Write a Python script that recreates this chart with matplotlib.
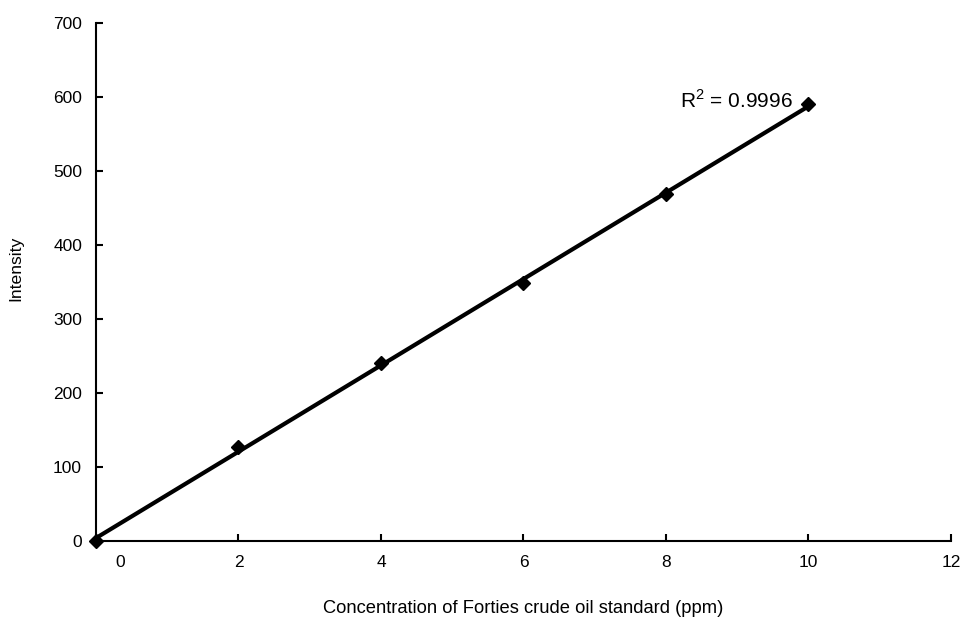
import numpy as np
import matplotlib
matplotlib.use("Agg")
import matplotlib.pyplot as plt
import matplotlib.transforms as mtransforms

plt.rcParams['font.family'] = ['Liberation Sans', 'DejaVu Sans']
plt.rcParams['mathtext.fontset'] = 'custom'
plt.rcParams['mathtext.rm'] = 'Liberation Sans'

concentration = [0, 2, 4, 6, 8, 10]
intensity = [0, 126, 240, 348, 468, 590]
x_ticks = [0, 2, 4, 6, 8, 10, 12]
y_ticks = [0, 100, 200, 300, 400, 500, 600, 700]
r2_label = r"R$^{\mathregular{2}}$ = 0.9996"

fig = plt.figure(figsize=(9.64, 6.17), dpi=100)
ax = fig.add_axes([96/964, 1 - 540.7/617, (951-96)/964, (540.7-22.7)/617])

x = np.array(concentration, dtype=float)
y = np.array(intensity, dtype=float)
slope, intercept = np.polyfit(x, y, 1)
xf = np.array([x.min(), x.max()])
ax.plot(xf, slope*xf + intercept, color='black', lw=3.0, zorder=2, solid_capstyle='butt')
ax.plot(x, y, linestyle='none', marker='D', markersize=7, color='black', zorder=3, clip_on=False)

ax.set_xlim(0, 12)
ax.set_ylim(0, 700)
ax.set_xticks(x_ticks)
ax.set_yticks(y_ticks)
ax.set_xticklabels([str(v) for v in x_ticks])
ax.set_yticklabels([str(v) for v in y_ticks])
for s in ['top', 'right']:
    ax.spines[s].set_visible(False)
for s in ['left', 'bottom']:
    ax.spines[s].set_linewidth(1.5)
ax.tick_params(direction='in', length=5, width=1.5, labelsize=12.5, colors='black')
ax.tick_params(axis='x', pad=10)
ax.tick_params(axis='y', pad=10)

# shift the "0" x tick label to the right as in the reference
lbl0 = ax.get_xticklabels()[0]
lbl0.set_transform(lbl0.get_transform() + mtransforms.ScaledTranslation(24/100, 0, fig.dpi_scale_trans))

ax.set_xlabel("Concentration of Forties crude oil standard (ppm)", fontsize=13.2, labelpad=22)
ax.set_ylabel("Intensity", fontsize=12.6)
ax.yaxis.set_label_coords(-0.0854, 0.526)

ax.text(8.2, 595, r2_label, fontsize=15, ha='left', va='center')

fig.savefig("out.png", dpi=100)
